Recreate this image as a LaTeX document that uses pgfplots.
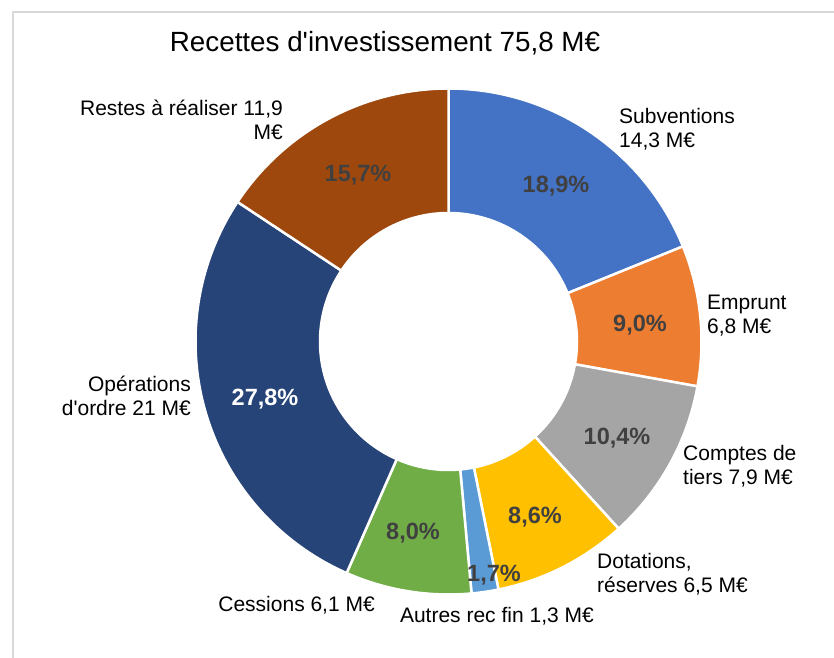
\documentclass[border=0pt]{standalone}
\usepackage{fontspec}
\setmainfont{Liberation Sans}
\usepackage{pgfplots}
\usepackage{pgfplotstable}
\pgfplotsset{compat=1.18}
\definecolor{cSub}{HTML}{4472C4}
\definecolor{cEmp}{HTML}{ED7D31}
\definecolor{cCpt}{HTML}{A5A5A5}
\definecolor{cDot}{HTML}{FFC000}
\definecolor{cAut}{HTML}{5B9BD5}
\definecolor{cCes}{HTML}{70AD47}
\definecolor{cOpe}{HTML}{264478}
\definecolor{cRes}{HTML}{9E480E}
\definecolor{pgray}{HTML}{404040}
\definecolor{frame}{HTML}{D9D9D9}

% value (M EUR), percent text, colour, label position (px from top-left), label colour
\pgfplotstableread{
value pct  col  tx  ty  tc
14.3  18,9 cSub 556 186 pgray
6.8   9,0  cEmp 640 325 pgray
7.9   10,4 cCpt 617 438 pgray
6.5   8,6  cDot 535 517 pgray
1.3   1,7  cAut 494 575 pgray
6.1   8,0  cCes 413 533 pgray
21    27,8 cOpe 265 399 white
11.9  15,7 cRes 358 175 pgray
}\data

\begin{document}
\begin{tikzpicture}
\begin{axis}[x=1pt,y=1pt,xmin=0,xmax=834,ymin=0,ymax=657,
  hide axis,clip=false,scale only axis]
\draw[frame,line width=1.5pt] (axis cs:13,-20) -- (axis cs:13,645) -- (axis cs:860,645);
\def\cum{0}
\pgfplotsforeachungrouped \i in {0,...,7}{%
  \pgfplotstablegetelem{\i}{value}\of\data \let\v\pgfplotsretval
  \pgfplotstablegetelem{\i}{col}\of\data \let\c\pgfplotsretval
  \pgfmathsetmacro\a{90-\cum/75.8*360}
  \pgfmathsetmacro\cum{\cum+\v}
  \pgfmathsetmacro\b{90-\cum/75.8*360}
  \edef\cmd{\noexpand\fill[fill=\c,draw=white,line width=2.5pt,line join=round]
    (axis cs:448.5,315.5) ++(\a:253pt) arc[start angle=\a,end angle=\b,radius=253pt]
    -- ++(\b:-124.5pt) arc[start angle=\b,end angle=\a,radius=128.5pt] -- cycle;}%
  \cmd
}
\pgfplotsforeachungrouped \i in {0,...,7}{%
  \pgfplotstablegetelem{\i}{pct}\of\data \let\p\pgfplotsretval
  \pgfplotstablegetelem{\i}{tx}\of\data \let\tx\pgfplotsretval
  \pgfplotstablegetelem{\i}{ty}\of\data \let\ty\pgfplotsretval
  \pgfplotstablegetelem{\i}{tc}\of\data \let\tc\pgfplotsretval
  \pgfmathsetmacro\yy{657-\ty}
  \edef\cmd{\noexpand\node[text=\tc,font=\noexpand\fontsize{23.5}{27}\noexpand\selectfont\noexpand\bfseries,inner sep=0pt]
    at (axis cs:\tx,\yy) {\p\noexpand\%};}%
  \cmd
}
\node[font=\fontsize{27.8}{32}\selectfont,anchor=base] at (axis cs:385,605) {Recettes d\textquotesingle investissement 75,8 M€};
\begin{scope}[every node/.style={font=\fontsize{21}{24}\selectfont,inner sep=0pt}]
\node[anchor=west,align=left] at (axis cs:619,528) {Subventions\\14,3 M€};
\node[anchor=west,align=left] at (axis cs:707,341) {Emprunt\\6,8 M€};
\node[anchor=west,align=left] at (axis cs:683,191) {Comptes de\\tiers 7,9 M€};
\node[anchor=west,align=left] at (axis cs:597,83) {Dotations,\\réserves 6,5 M€};
\node[anchor=east] at (axis cs:594,41) {Autres rec fin 1,3 M€};
\node[anchor=east] at (axis cs:375,52) {Cessions 6,1 M€};
\node[anchor=east,align=right] at (axis cs:191,261) {Opérations\\d\textquotesingle ordre 21 M€};
\node[anchor=east,align=right] at (axis cs:283,537) {Restes à réaliser 11,9\\M€};
\end{scope}
\end{axis}
\pgfresetboundingbox
\path (current axis.south west) rectangle (current axis.north east);
\end{tikzpicture}
\end{document}
